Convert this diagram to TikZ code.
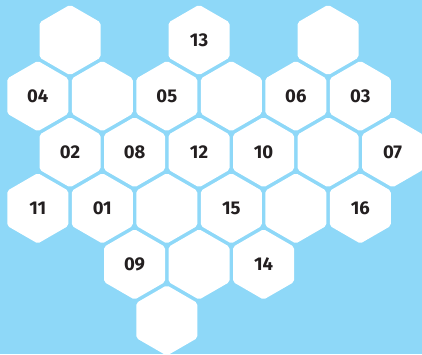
\documentclass[tikz,border=0pt]{standalone}
\usepackage{fontspec}
\setmainfont{Fira Sans}
\usetikzlibrary{shapes.geometric}
\definecolor{bg}{RGB}{142,216,248}
\definecolor{ink}{RGB}{35,31,32}
\begin{document}
\begin{tikzpicture}[x=1pt,y=1pt,
  hexcell/.style={regular polygon, regular polygon sides=6, shape border rotate=30,
    minimum size=70.4pt, inner sep=0pt, fill=white, rounded corners=2pt,
    text=ink, font=\fontsize{18.5}{19}\selectfont\bfseries}]
\clip (0,0) rectangle (422,354);
\fill[bg] (0,0) rectangle (422,354);
\newcommand{\hexat}[4]{\node[hexcell] (#1) at ({37.8+32.25*#2},{354-40-56.1*#3}) {#4};}
% row 0
\hexat{e01}{1}{0}{}
\hexat{h13}{5}{0}{13}
\hexat{e09}{9}{0}{}
% row 1
\hexat{h04}{0}{1}{04}
\hexat{e21}{2}{1}{}
\hexat{h05}{4}{1}{05}
\hexat{e61}{6}{1}{}
\hexat{h06}{8}{1}{06}
\hexat{h03}{10}{1}{03}
% row 2
\hexat{h02}{1}{2}{02}
\hexat{h08}{3}{2}{08}
\hexat{h12}{5}{2}{12}
\hexat{h10}{7}{2}{10}
\hexat{e92}{9}{2}{}
\hexat{h07}{11}{2}{07}
% row 3
\hexat{h11}{0}{3}{11}
\hexat{h01}{2}{3}{01}
\hexat{e43}{4}{3}{}
\hexat{h15}{6}{3}{15}
\hexat{e83}{8}{3}{}
\hexat{h16}{10}{3}{16}
% row 4
\hexat{h09}{3}{4}{09}
\hexat{e54}{5}{4}{}
\hexat{h14}{7}{4}{14}
% row 5
\hexat{e45}{4}{5}{}
\end{tikzpicture}
\end{document}
